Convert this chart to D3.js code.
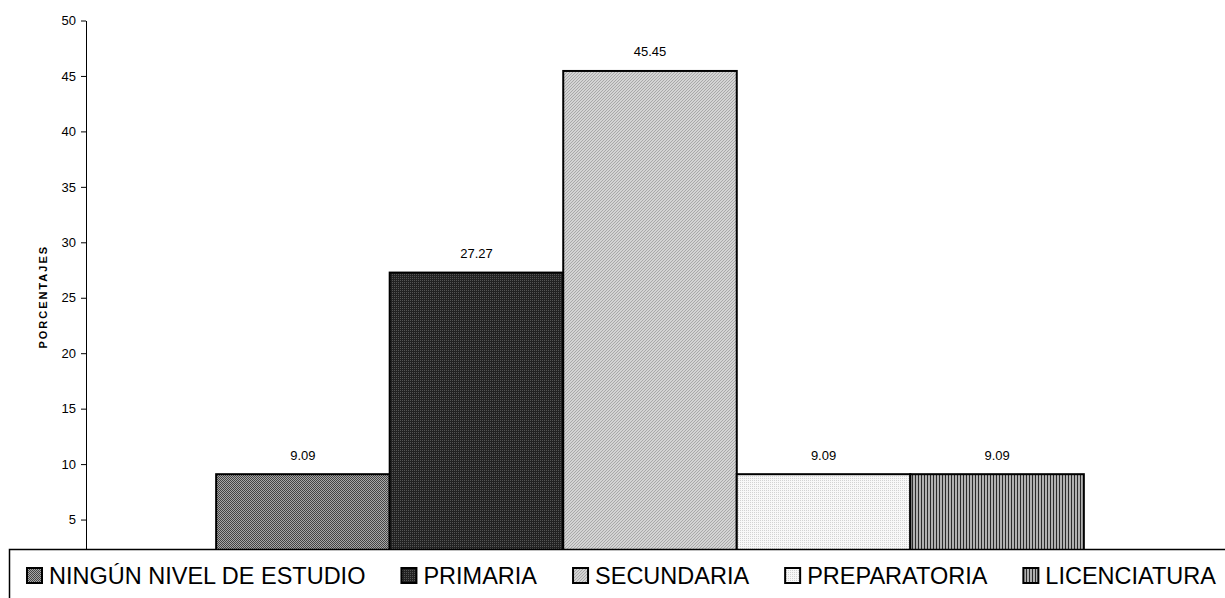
<!DOCTYPE html>
<html>
<head>
<meta charset="utf-8">
<script src="https://cdn.jsdelivr.net/npm/d3@7"></script>
<style>
  html, body { margin: 0; padding: 0; background: #fff; }
  svg { display: block; }
  text { font-family: "Liberation Sans", Arial, sans-serif; fill: #000; }
</style>
</head>
<body>
<svg id="chart" width="1225" height="598"></svg>
<script>
// Nivel de estudio — porcentajes
const categories = ["NINGÚN NIVEL DE ESTUDIO", "PRIMARIA", "SECUNDARIA", "PREPARATORIA", "LICENCIATURA"];
const values = [9.09, 27.27, 45.45, 9.09, 9.09];
const yTicks = [5, 10, 15, 20, 25, 30, 35, 40, 45, 50];
const yTitle = "PORCENTAJES";

const W = 1225, H = 598;
const plot = { left: 86, right: 1214, top: 20.5, bottom: 575 };

const svg = d3.select("#chart");
const defs = svg.append("defs");

// Monochrome fill patterns, one per series
function pattern(id, size, draw) {
  const p = defs.append("pattern")
    .attr("id", id)
    .attr("patternUnits", "userSpaceOnUse")
    .attr("width", size[0]).attr("height", size[1])
    .attr("shape-rendering", "crispEdges");
  draw(p);
}
// fine checker, mid grey
pattern("pat0", [2, 2], p => {
  p.append("rect").attr("width", 2).attr("height", 2).attr("fill", "#a8a8a8");
  p.append("rect").attr("width", 1).attr("height", 1).attr("fill", "#444");
  p.append("rect").attr("x", 1).attr("y", 1).attr("width", 1).attr("height", 1).attr("fill", "#444");
});
// fine checker, dark
pattern("pat1", [2, 2], p => {
  p.append("rect").attr("width", 2).attr("height", 2).attr("fill", "#222");
  p.append("rect").attr("width", 1).attr("height", 1).attr("fill", "#555");
});
// light diagonal hatch
pattern("pat2", [3, 3], p => {
  p.append("rect").attr("width", 3).attr("height", 3).attr("fill", "#d4d4d4");
  p.append("rect").attr("x", 0).attr("y", 2).attr("width", 1).attr("height", 1).attr("fill", "#a8a8a8");
  p.append("rect").attr("x", 1).attr("y", 1).attr("width", 1).attr("height", 1).attr("fill", "#a8a8a8");
  p.append("rect").attr("x", 2).attr("y", 0).attr("width", 1).attr("height", 1).attr("fill", "#a8a8a8");
});
// very light vertical dotted lines
pattern("pat3", [2, 2], p => {
  p.append("rect").attr("width", 2).attr("height", 2).attr("fill", "#f8f8f8");
  p.append("rect").attr("width", 1).attr("height", 1).attr("fill", "#d2d2d2");
});
// vertical stripes, dark/grey
pattern("pat4", [3, 1], p => {
  p.append("rect").attr("width", 3).attr("height", 1).attr("fill", "#b0b0b0");
  p.append("rect").attr("width", 1).attr("height", 1).attr("fill", "#2a2a2a");
});
const fills = categories.map((c, i) => `url(#pat${i})`);

// Scales
const x = d3.scaleBand()
  .domain(categories)
  .range([plot.left, plot.right])
  .paddingInner(0)
  .paddingOuter(0.75);

const y = d3.scaleLinear()
  .domain([0, 50])
  .range([plot.bottom, plot.top]);

// Y axis
const yAxis = svg.append("g")
  .attr("transform", `translate(${plot.left},0)`)
  .call(d3.axisLeft(y).tickValues(yTicks).tickSize(5).tickSizeOuter(0).tickPadding(5));
yAxis.select(".domain").attr("stroke", "#000").attr("stroke-width", 1);
yAxis.selectAll(".tick line").attr("stroke", "#000");
yAxis.selectAll(".tick text")
  .style("font-family", "'Liberation Sans', Arial, sans-serif")
  .style("font-size", "13px")
  .attr("fill", "#000");

// Axis title
svg.append("text")
  .attr("transform", `translate(47,${(plot.top + 549) / 2 + 12}) rotate(-90)`)
  .attr("text-anchor", "middle")
  .style("font-size", "11px")
  .style("font-weight", "bold")
  .style("letter-spacing", "2px")
  .text(yTitle);

// Bars
svg.append("g").selectAll("rect")
  .data(values)
  .join("rect")
  .attr("x", (d, i) => x(categories[i]))
  .attr("y", d => y(d))
  .attr("width", x.bandwidth())
  .attr("height", d => y(0) - y(d))
  .attr("fill", (d, i) => fills[i])
  .attr("stroke", "#000")
  .attr("stroke-width", 2);

// Value labels
svg.append("g").selectAll("text")
  .data(values)
  .join("text")
  .attr("x", (d, i) => x(categories[i]) + x.bandwidth() / 2)
  .attr("y", d => y(d) - 14.5)
  .attr("text-anchor", "middle")
  .style("font-size", "13px")
  .text(d => d.toFixed(2));

// Legend box (runs off the bottom and right edges)
const legend = svg.append("g");
legend.append("rect")
  .attr("x", 9.5).attr("y", 549.5)
  .attr("width", W).attr("height", 100)
  .attr("fill", "#fff")
  .attr("stroke", "#000")
  .attr("stroke-width", 1.5);

let lx = 27;
categories.forEach((c, i) => {
  legend.append("rect")
    .attr("x", lx).attr("y", 568)
    .attr("width", 15).attr("height", 15)
    .attr("fill", fills[i])
    .attr("stroke", "#000")
    .attr("stroke-width", 2);
  const t = legend.append("text")
    .attr("x", lx + 22)
    .attr("y", 584)
    .style("font-size", "23.5px")
    .text(c);
  lx = lx + 22 + t.node().getComputedTextLength() + 36;
});
</script>
</body>
</html>
